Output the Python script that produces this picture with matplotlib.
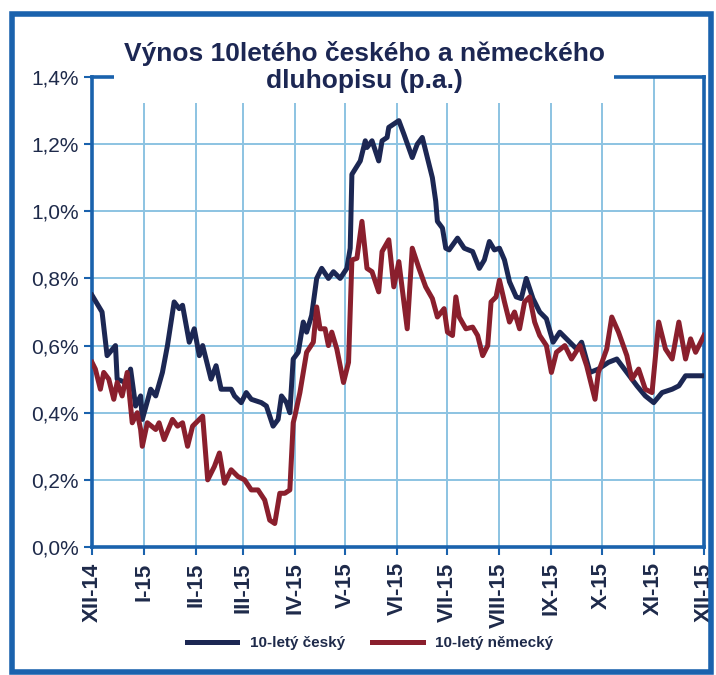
import numpy as np
import matplotlib
matplotlib.use('Agg')
import matplotlib.pyplot as plt
from matplotlib.patches import Rectangle
from matplotlib.lines import Line2D

START = np.datetime64('2014-12-01')

# 10-letý český (days since 1.12.2014, yield in %)
cz_days = [0, 6, 9, 14, 15, 20, 23, 26, 29, 30, 35, 38, 42, 45, 49, 52, 54, 58, 61, 64,
           66, 71, 74, 77, 83, 85, 89, 92, 95, 101, 104, 108, 111, 113, 116, 118, 120, 123,
           126, 128, 131, 134, 137, 141, 144, 148, 152, 154, 155, 160, 163, 164, 167, 171,
           173, 176, 177, 180, 183, 186, 191, 194, 197, 199, 203, 205, 206, 209, 211, 213,
           218, 222, 227, 231, 234, 237, 240, 243, 246, 249, 253, 256, 259, 263, 267, 271,
           275, 279, 283, 289, 292, 297, 302, 308, 313, 319, 325, 330, 335, 340, 346, 350,
           354, 360, 365]
cz_yield = [0.75, 0.70, 0.57, 0.60, 0.50, 0.49, 0.53, 0.42, 0.45, 0.38, 0.47, 0.45, 0.52,
            0.60, 0.73, 0.71, 0.72, 0.61, 0.65, 0.57, 0.60, 0.50, 0.54, 0.47, 0.47, 0.45,
            0.43, 0.46, 0.44, 0.43, 0.42, 0.36, 0.38, 0.45, 0.43, 0.40, 0.56, 0.58, 0.67,
            0.64, 0.69, 0.80, 0.83, 0.80, 0.82, 0.80, 0.83, 0.89, 1.11, 1.15, 1.21, 1.19,
            1.21, 1.15, 1.21, 1.22, 1.25, 1.26, 1.27, 1.23, 1.16, 1.20, 1.22, 1.18, 1.10,
            1.03, 0.97, 0.95, 0.89, 0.885, 0.92, 0.89, 0.88, 0.83, 0.855, 0.91, 0.885, 0.89,
            0.855, 0.79, 0.745, 0.74, 0.80, 0.74, 0.70, 0.68, 0.61, 0.64, 0.62, 0.59, 0.61,
            0.52, 0.53, 0.55, 0.56, 0.52, 0.48, 0.45, 0.43, 0.46, 0.47, 0.48, 0.51, 0.51,
            0.51]

# 10-letý německý
de_days = [0, 2, 5, 7, 10, 13, 15, 18, 21, 24, 27, 29, 30, 33, 38, 40, 43, 48, 51, 54,
           57, 60, 66, 69, 73, 76, 79, 83, 87, 91, 95, 99, 103, 106, 109, 112, 115, 118,
           120, 121, 124, 128, 132, 134, 136, 139, 141, 143, 146, 150, 153, 155, 158, 161,
           164, 167, 171, 173, 177, 180, 183, 188, 191, 195, 199, 203, 206, 210, 212, 215,
           217, 219, 223, 227, 230, 233, 236, 238, 241, 243, 246, 249, 252, 255, 258, 261,
           264, 267, 271, 274, 277, 282, 286, 291, 295, 300, 302, 307, 310, 314, 319, 322,
           326, 330, 334, 338, 342, 346, 350, 354, 357, 360, 365]
de_yield = [0.55, 0.53, 0.47, 0.52, 0.50, 0.44, 0.49, 0.45, 0.52, 0.37, 0.40, 0.35, 0.30,
            0.37, 0.35, 0.37, 0.32, 0.38, 0.36, 0.37, 0.30, 0.36, 0.39, 0.20, 0.24, 0.28,
            0.19, 0.23, 0.21, 0.20, 0.17, 0.17, 0.14, 0.08, 0.07, 0.16, 0.16, 0.17, 0.37,
            0.39, 0.46, 0.58, 0.61, 0.715, 0.65, 0.65, 0.60, 0.64, 0.59, 0.49, 0.55, 0.855,
            0.86, 0.97, 0.83, 0.82, 0.76, 0.88, 0.915, 0.775, 0.85, 0.65, 0.89, 0.83, 0.775,
            0.74, 0.685, 0.71, 0.64, 0.63, 0.745, 0.685, 0.65, 0.655, 0.63, 0.57, 0.60, 0.73,
            0.745, 0.795, 0.73, 0.67, 0.70, 0.65, 0.73, 0.745, 0.67, 0.63, 0.60, 0.52, 0.58,
            0.60, 0.56, 0.60, 0.54, 0.44, 0.52, 0.59, 0.685, 0.64, 0.57, 0.50, 0.53, 0.47,
            0.46, 0.67, 0.59, 0.56, 0.67, 0.56, 0.62, 0.58, 0.63]

month_labels = ['XII-14', 'I-15', 'II-15', 'III-15', 'IV-15', 'V-15', 'VI-15',
                'VII-15', 'VIII-15', 'IX-15', 'X-15', 'XI-15', 'XII-15']
y_ticks = [0.0, 0.2, 0.4, 0.6, 0.8, 1.0, 1.2, 1.4]
y_labels = ['0,0%', '0,2%', '0,4%', '0,6%', '0,8%', '1,0%', '1,2%', '1,4%']
series_names = ['10-letý český', '10-letý německý']

NAVY = '#1c2753'
RED = '#8a1f2d'
FRAME = '#1a62ad'
GRID = '#8cc3e2'
TEXT = '#1e2a4a'

plt.rcParams['font.family'] = ['Liberation Sans', 'DejaVu Sans']

fig = plt.figure(figsize=(7.16, 6.75), dpi=100)
W, H = 716, 675
ax = fig.add_axes([92 / W, 1 - 547 / H, (704 - 92) / W, (547 - 77) / H])

cz_x = START + np.array(cz_days).astype('timedelta64[D]')
de_x = START + np.array(de_days).astype('timedelta64[D]')
ax.plot(cz_x, cz_yield, color=NAVY, lw=3.6, zorder=3, solid_joinstyle='round')
ax.plot(de_x, de_yield, color=RED, lw=3.6, zorder=3, solid_joinstyle='round')

month_ticks = np.array([np.datetime64('2014-12', 'M') + i for i in range(13)]).astype('datetime64[D]')
ax.set_xlim(START, np.datetime64('2015-12-01'))
ax.set_ylim(0, 1.4)
ax.set_xticks(month_ticks)
ax.set_xticklabels(month_labels, rotation=90, fontsize=16, fontweight='bold', color=TEXT)
ax.set_yticks(y_ticks)
ax.set_yticklabels(y_labels, fontsize=15, color=TEXT)
ax.tick_params(axis='both', colors=FRAME, length=6, width=1.5, labelcolor=TEXT)
ax.tick_params(axis='x', pad=5)
ax.grid(True, color=GRID, lw=1.4)
for s in ax.spines.values():
    s.set_color(FRAME)
    s.set_linewidth(2.6)

# title sits over the top spine, white box hides it
fig.text(364 / W, 1 - 67 / H, 'Výnos 10letého českého a německého\ndluhopisu (p.a.)',
         ha='center', va='center', fontsize=19, fontweight='bold', color=NAVY,
         linespacing=1.2, zorder=10,
         bbox=dict(facecolor='white', edgecolor='none', boxstyle='square,pad=0.35'))

handles = [Line2D([], [], color=NAVY, lw=3.6), Line2D([], [], color=RED, lw=3.6)]
leg = fig.legend(handles, series_names, loc='center', bbox_to_anchor=(370 / W, 1 - 643 / H),
                 ncol=2, frameon=False, handlelength=3.3, columnspacing=1.8,
                 prop={'size': 11, 'weight': 'bold'})
for t in leg.get_texts():
    t.set_color(TEXT)

# outer frame round the whole chart
fig.patches.append(Rectangle((12 / W, 1 - 672 / H), (711 - 12) / W, (672 - 14) / H,
                             transform=fig.transFigure, fill=False, edgecolor=FRAME, lw=4))

fig.savefig('out.png', dpi=100)
